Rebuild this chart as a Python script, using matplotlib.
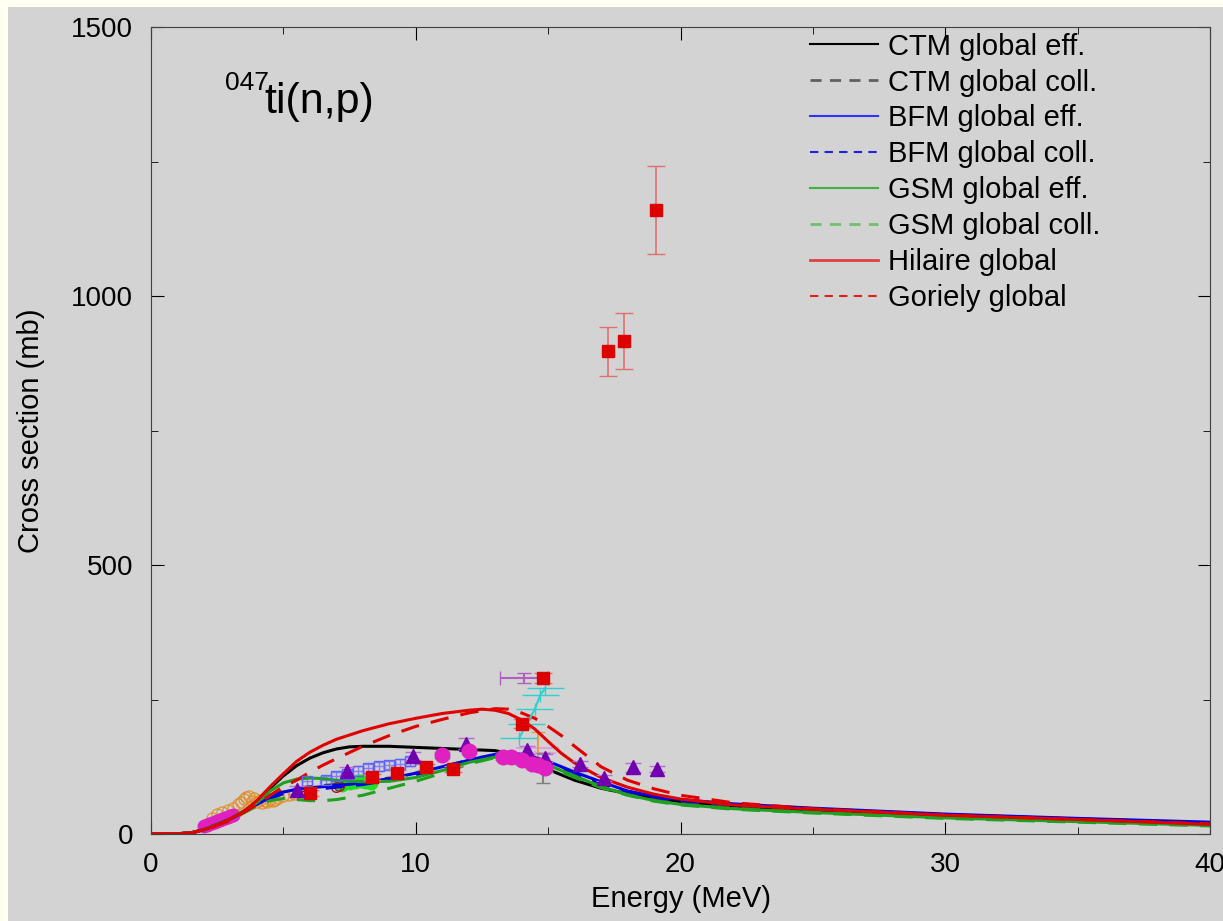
import numpy as np
import matplotlib
matplotlib.use("Agg")
import matplotlib.pyplot as plt
from matplotlib.patches import Rectangle

plt.rcParams['font.family'] = ['Liberation Sans', 'DejaVu Sans']

# Model curves (energy in MeV, cross section in mb)
e_ctm = [0, 1, 1.5, 2, 2.5, 3, 3.5, 4, 4.5, 5, 5.5, 6, 6.5, 7, 7.5, 8, 9, 10, 11, 12, 13,
         13.5, 14, 15, 16, 17, 18, 19, 20, 22, 25, 30, 35, 40]
s_ctm_eff = [0, 0.5, 2, 8, 17, 28, 42, 60, 85, 108, 127, 141, 151, 158, 162, 163, 163, 161,
             159, 157, 155, 150, 140, 120, 100, 85, 75, 67, 60, 52, 44, 34, 27, 20]
s_ctm_coll = [0, 0.5, 2, 8, 17, 28, 42, 58, 72, 80, 84, 88, 90, 92, 94, 97, 104, 113,
              125, 137, 146, 148, 145, 130, 110, 92, 77, 67, 60, 52, 44, 34, 27, 20]

e_hil = [0, 1, 1.5, 2, 2.5, 3, 3.5, 4, 4.5, 5, 5.5, 6, 6.5, 7, 8, 9, 10, 11, 12, 12.5, 13,
         13.5, 14, 14.5, 15, 15.5, 16, 17, 18, 19, 20, 22, 25, 30, 35, 40]
s_hil = [0, 0.5, 2, 8, 17, 28, 42, 62, 88, 112, 135, 152, 165, 176, 192, 205, 215, 224, 230,
         232, 230, 224, 212, 195, 172, 150, 132, 105, 87, 74, 65, 54, 46, 35, 27, 18]

e_gor = [0, 1, 1.5, 2, 3, 4, 4.5, 5, 5.5, 6, 6.5, 7, 8, 9, 10, 11, 12, 13, 13.5, 14, 14.5,
         15, 15.5, 16, 17, 18, 19, 20, 22, 25, 30, 35, 40]
s_gor = [0, 0.5, 2, 7, 25, 55, 72, 88, 100, 115, 128, 140, 163, 183, 200, 213, 225, 233, 232,
         225, 215, 200, 183, 163, 125, 100, 84, 72, 58, 47, 35, 27, 19]

e_bfm = [0, 1, 1.5, 2, 3, 4, 4.5, 5, 5.5, 6, 7, 8, 9, 10, 11, 12, 12.5, 13, 13.5, 14, 14.5,
         15, 16, 17, 18, 19, 20, 22, 25, 30, 35, 40]
s_bfm_eff = [0, 0.5, 2, 8, 28, 55, 68, 78, 83, 86, 90, 95, 103, 113, 125, 137, 143, 148, 150,
             148, 142, 135, 115, 97, 80, 70, 64, 56, 48, 37, 29, 22]
s_bfm_coll = [0, 0.5, 2, 8, 28, 54, 66, 75, 79, 82, 87, 92, 100, 110, 122, 135, 141, 146, 148,
              146, 140, 133, 113, 95, 79, 69, 62, 55, 47, 36, 28, 21]

e_gsm = [0, 1, 1.5, 2, 3, 4, 4.5, 5, 5.5, 6, 6.5, 7, 8, 9, 10, 11, 12, 13, 13.5, 14, 15, 16,
         17, 18, 19, 20, 22, 25, 30, 35, 40]
s_gsm_eff = [0, 0.5, 2, 8, 28, 58, 80, 95, 102, 104, 103, 100, 97, 98, 105, 118, 133, 143, 145,
             142, 128, 108, 88, 73, 62, 55, 47, 40, 30, 23, 16]
s_gsm_coll = [0, 0.5, 2, 7, 26, 52, 62, 66, 64, 62, 62, 64, 72, 85, 98, 113, 130, 142, 144,
              140, 125, 105, 86, 72, 61, 54, 46, 39, 29, 22, 15]

# Experimental data
e_sq = [6.0, 8.35, 9.3, 10.4, 11.4, 14.0, 14.8, 17.26, 17.87, 19.07]
s_sq = [76, 106, 113, 125, 121, 205, 290, 897, 917, 1160]
d_sq = [6, 6, 6, 6, 6, 8, 10, 45, 52, 82]

e_tri = [5.5, 7.4, 9.9, 11.9, 14.2, 14.9, 16.2, 17.1, 18.2, 19.1]
s_tri = [82, 117, 145, 168, 156, 141, 130, 104, 124, 121]
d_tri = [8, 8, 8, 10, 8, 8, 6, 6, 8, 6]

e_circ = [11.0, 12.0, 13.3, 13.6, 14.0, 14.4, 14.6, 14.9]
s_circ = [147, 154, 143, 143, 137, 131, 128, 122]

e_circ_low = [2.0, 2.1, 2.2, 2.3, 2.4, 2.5, 2.6, 2.7, 2.8, 2.9, 3.0, 3.1]
s_circ_low = [14, 17, 19, 21, 23, 24, 26, 28, 29, 31, 33, 36]

e_orange = [2.3, 2.5, 2.7, 2.9, 3.1, 3.3, 3.4, 3.5, 3.6, 3.7, 3.8, 3.9, 4.0, 4.1, 4.2, 4.3,
            4.4, 4.5, 4.6, 4.7, 4.8, 5.0, 5.2, 5.4]
s_orange = [30, 38, 40, 44, 48, 55, 60, 65, 68, 70, 62, 66, 60, 64, 58, 62, 60, 63, 62, 64,
            66, 70, 72, 75]

e_bsq = [5.9, 6.6, 7.0, 7.4, 7.8, 8.2, 8.6, 9.0, 9.4, 9.8]
s_bsq = [98, 100, 108, 112, 118, 122, 126, 128, 131, 135]

e_grn = [7.2, 7.5, 7.7, 7.9, 8.1, 8.3]
s_grn = [92, 95, 96, 98, 97, 95]

e_cyan = [13.9, 14.2, 14.5, 14.7, 14.9]
s_cyan = [178, 205, 232, 258, 271]

legend_labels = ["CTM global eff.", "CTM global coll.", "BFM global eff.", "BFM global coll.",
                 "GSM global eff.", "GSM global coll.", "Hilaire global", "Goriely global"]

fig = plt.figure(figsize=(12.23, 9.21), dpi=100, facecolor="#fffff2")
fig.patches.append(Rectangle((8 / 1223, 0), 1, 1 - 7 / 921, transform=fig.transFigure,
                             facecolor="#d3d3d3", edgecolor="none", zorder=-10))
ax = fig.add_axes([151 / 1223, 87 / 921, 1059 / 1223, 807 / 921])
ax.set_facecolor("#d3d3d3")

# experimental points first, curves on top
ax.plot(e_orange, s_orange, "o", mfc="none", mec="#e08a20", ms=8, mew=1, alpha=0.8)
ax.plot(e_circ_low, s_circ_low, "o", color="#e020c0", ms=9)
ax.errorbar(e_bsq, s_bsq, yerr=8, xerr=0.2, fmt="s", mfc="none", mec="#6060ff", ecolor="#8080ff",
            ms=7, capsize=3, elinewidth=1)
ax.plot(e_grn, s_grn, "o", color="#20e020", ms=9)
ax.plot([7.0, 7.1], [88, 90], "o", mfc="none", mec="#a02020", ms=7)
ax.errorbar(e_cyan, s_cyan, yerr=12, xerr=0.7, fmt="-", color="#30d0d0", capsize=0, elinewidth=1)
ax.errorbar([14.5, 14.6], [150, 160], xerr=0.8, yerr=[5, 20], fmt="none", ecolor="#e0a0e0")
ax.errorbar([14.6], [160], yerr=30, fmt="none", ecolor="#e0a050", capsize=5)
ax.errorbar([14.8], [120], yerr=[[25], [30]], fmt="none", ecolor="#808080", capsize=5)
ax.errorbar([14.1], [290], xerr=0.9, yerr=10, fmt="none", ecolor="#b060c0", capsize=5)

ax.plot(e_ctm, s_ctm_eff, "-", color="black", lw=2.2)
ax.plot(e_ctm, s_ctm_coll, "--", color="#404040", lw=2.2, dashes=(6, 4))
ax.plot(e_bfm, s_bfm_eff, "-", color="#0000e0", lw=2.2)
ax.plot(e_bfm, s_bfm_coll, "--", color="#0000e0", lw=2.2, dashes=(6, 4))
ax.plot(e_gsm, s_gsm_eff, "-", color="#20a020", lw=2.2)
ax.plot(e_gsm, s_gsm_coll, "--", color="#20a020", lw=2.2, dashes=(6, 4))
ax.plot(e_hil, s_hil, "-", color="#e00000", lw=2.2)
ax.plot(e_gor, s_gor, "--", color="#e00000", lw=2.2, dashes=(6, 4))

ax.errorbar(e_sq, s_sq, yerr=d_sq, fmt="s", color="#dd0000", ecolor="#e07070", ms=9,
            capsize=6.5, elinewidth=1.2, zorder=5)
ax.errorbar(e_tri, s_tri, yerr=d_tri, fmt="^", color="#7000b0", ecolor="#b070d0", ms=10,
            capsize=6, elinewidth=1, zorder=5)
ax.errorbar(e_circ, s_circ, yerr=6, fmt="o", color="#e020c0", ecolor="#60c060", ms=10.5,
            capsize=6, elinewidth=1, zorder=5)

# legend drawn as proxy lines
handles = [
    plt.Line2D([], [], color="black", lw=1.5),
    plt.Line2D([], [], color="#606060", lw=2, ls="--", dashes=(4, 3)),
    plt.Line2D([], [], color="#3030ff", lw=1.5),
    plt.Line2D([], [], color="#2020e0", lw=1.5, ls="--", dashes=(4, 3)),
    plt.Line2D([], [], color="#40b040", lw=1.5),
    plt.Line2D([], [], color="#70c070", lw=2, ls="--", dashes=(4, 3)),
    plt.Line2D([], [], color="#e04040", lw=2),
    plt.Line2D([], [], color="#e02020", lw=1.5, ls="--", dashes=(4, 3)),
]
ax.legend(handles, legend_labels, loc="upper left", bbox_to_anchor=(0.622, 0.993),
          frameon=False, fontsize=21, handlelength=2.33, handletextpad=0.34,
          labelspacing=0.27, borderpad=0, borderaxespad=0)

ax.text(0.070, 0.922, "047", transform=ax.transAxes, fontsize=19)
ax.text(0.107, 0.893, "ti(n,p)", transform=ax.transAxes, fontsize=31)

ax.set_xlim(0, 40)
ax.set_ylim(0, 1500)
ax.set_xticks([0, 10, 20, 30, 40])
ax.set_xticks([5, 15, 25, 35], minor=True)
ax.set_yticks([0, 500, 1000, 1500])
ax.set_yticks([250, 750, 1250], minor=True)
ax.tick_params(which="both", direction="in", top=True, right=True, labelsize=20, pad=13)
ax.tick_params(which="major", length=9)
ax.tick_params(which="minor", length=5)
for s in ax.spines.values():
    s.set_color("#404040")
ax.set_xlabel("Energy (MeV)", fontsize=21, labelpad=5)
ax.set_ylabel("Cross section (mb)", fontsize=21, labelpad=19)

fig.savefig("out.png", dpi=100, facecolor=fig.get_facecolor())
